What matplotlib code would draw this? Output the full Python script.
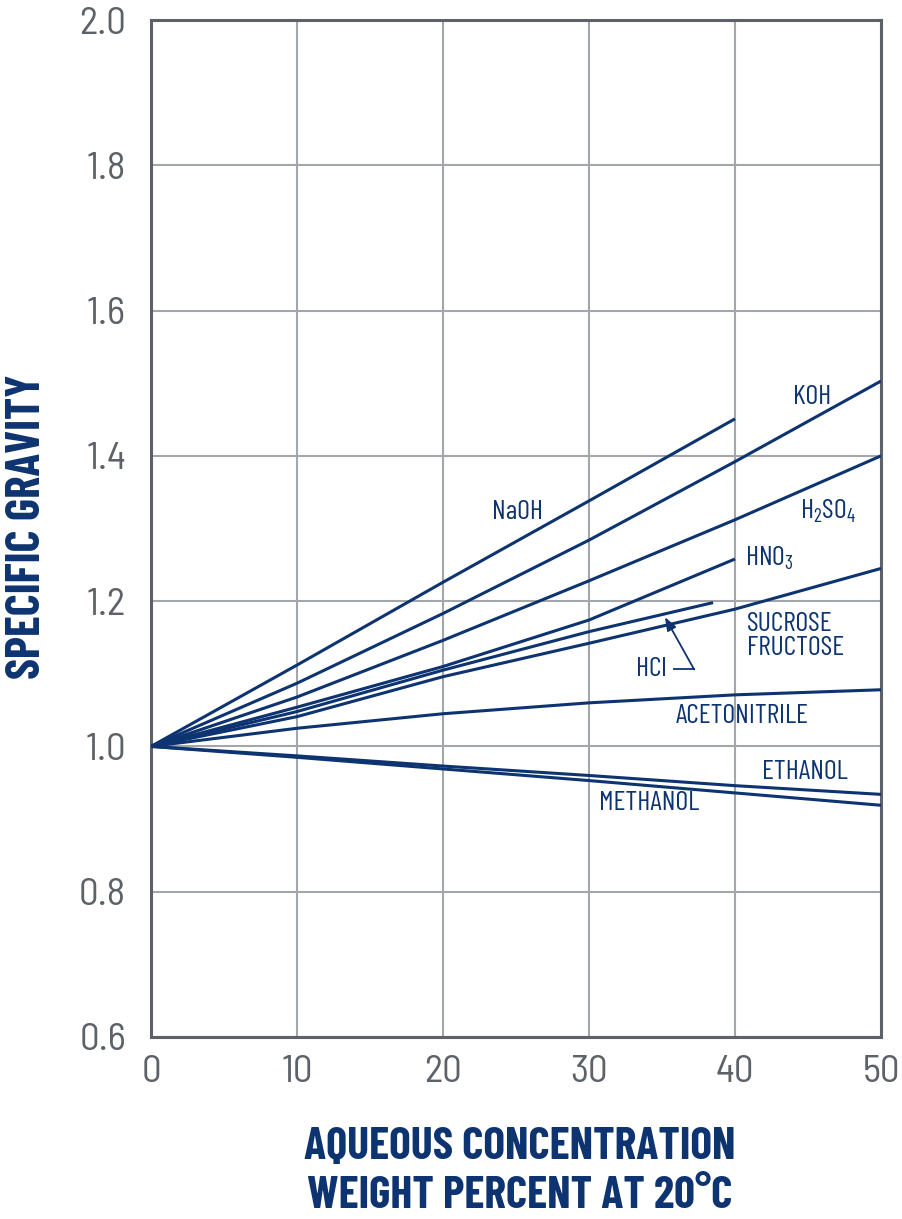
import matplotlib
matplotlib.use("Agg")
import matplotlib.pyplot as plt

# ---- data: specific gravity of aqueous solutions vs. weight percent ----
conc = [0, 10, 20, 30, 40, 50]

naoh_x = [0, 10, 20, 30, 40]
naoh_y = [1.000, 1.112, 1.226, 1.338, 1.451]

koh_x = conc
koh_y = [1.000, 1.087, 1.183, 1.284, 1.392, 1.503]

h2so4_x = conc
h2so4_y = [1.000, 1.068, 1.146, 1.228, 1.312, 1.400]

hno3_x = [0, 10, 20, 30, 40]
hno3_y = [1.000, 1.054, 1.110, 1.174, 1.258]

hcl_x = [0, 10, 20, 30, 38.5]
hcl_y = [1.000, 1.048, 1.105, 1.158, 1.198]

sucrose_x = conc
sucrose_y = [1.000, 1.041, 1.096, 1.142, 1.189, 1.245]

acetonitrile_x = conc
acetonitrile_y = [1.000, 1.025, 1.045, 1.060, 1.071, 1.078]

ethanol_x = conc
ethanol_y = [1.000, 0.987, 0.973, 0.960, 0.946, 0.934]

methanol_x = conc
methanol_y = [1.000, 0.985, 0.969, 0.953, 0.936, 0.919]

x_ticks = [0, 10, 20, 30, 40, 50]
y_ticks = [0.6, 0.8, 1.0, 1.2, 1.4, 1.6, 1.8, 2.0]
y_tick_labels = ["0.6", "0.8", "1.0", "1.2", "1.4", "1.6", "1.8", "2.0"]

# ---- styling ----
FONT = "Barlow Condensed"
TICK_FONT = "Barlow Semi Condensed"
plt.rcParams["font.family"] = [FONT, "DejaVu Sans"]
plt.rcParams["mathtext.fontset"] = "custom"
plt.rcParams["mathtext.rm"] = FONT
plt.rcParams["mathtext.it"] = FONT
plt.rcParams["mathtext.bf"] = FONT

NAVY = "#0d3470"
GRID = "#a3a7ab"
SPINE = "#5c6268"

fig = plt.figure(figsize=(9.02, 12.19), dpi=100)
ax = fig.add_axes([151 / 902, 1 - 1037 / 1219, 730 / 902, 1017 / 1219])

series = [
    (naoh_x, naoh_y), (koh_x, koh_y), (h2so4_x, h2so4_y), (hno3_x, hno3_y),
    (hcl_x, hcl_y), (sucrose_x, sucrose_y), (acetonitrile_x, acetonitrile_y),
    (ethanol_x, ethanol_y), (methanol_x, methanol_y),
]
for xs, ys in series:
    ax.plot(xs, ys, color=NAVY, lw=2.2, solid_capstyle="butt", zorder=3)

ax.set_xlim(0, 50)
ax.set_ylim(0.6, 2.0)
ax.set_xticks(x_ticks)
ax.set_yticks(y_ticks)
ax.set_yticklabels(y_tick_labels)
ax.grid(True, color=GRID, lw=1.5, zorder=0)
ax.set_axisbelow(True)
for s in ax.spines.values():
    s.set_color(SPINE)
    s.set_linewidth(2.2)
ax.tick_params(length=0, colors=SPINE, labelsize=28)
ax.tick_params(axis="y", pad=18)
ax.tick_params(axis="x", pad=13)
for lab in ax.get_xticklabels() + ax.get_yticklabels():
    lab.set_fontfamily([TICK_FONT, "DejaVu Sans"])
    lab.set_fontweight("normal")

fig.text(28 / 902, 1 - 527 / 1219, "SPECIFIC GRAVITY", color=NAVY, fontsize=34,
         fontweight="bold", rotation=90, ha="center", va="center")
fig.text(520 / 902, 1 - 1147 / 1219, "AQUEOUS CONCENTRATION", color=NAVY, fontsize=33,
         fontweight="bold", ha="center", va="center")
fig.text(520 / 902, 1 - 1196 / 1219, "WEIGHT PERCENT AT 20°C", color=NAVY, fontsize=33,
         fontweight="bold", ha="center", va="center")

# ---- curve labels ----
lab_kw = dict(color=NAVY, fontsize=20, va="center", zorder=4)
ax.text(25.1, 1.323, "NaOH", ha="center", **lab_kw)
ax.text(45.3, 1.481, "KOH", ha="center", **lab_kw)
ax.text(46.4, 1.323, "H$_2$SO$_4$", ha="center", **lab_kw)
ax.text(40.7, 1.259, "HNO$_3$", ha="left", **lab_kw)
ax.text(40.8, 1.152, "SUCROSE\nFRUCTOSE", ha="left", linespacing=1.0, **lab_kw)
ax.text(35.3, 1.106, "HCl", ha="right", **lab_kw)
ax.text(40.5, 1.042, "ACETONITRILE", ha="center", **lab_kw)
ax.text(44.8, 0.965, "ETHANOL", ha="center", **lab_kw)
ax.text(34.1, 0.922, "METHANOL", ha="center", **lab_kw)

# leader for HCl: short horizontal stub, then an arrow up to the curve
ax.plot([35.85, 37.2], [1.106, 1.106], color=NAVY, lw=1.3, zorder=4)
ax.annotate("", xy=(35.2, 1.178), xytext=(37.2, 1.106),
            arrowprops=dict(arrowstyle="-|>,head_length=0.8,head_width=0.3",
                            color=NAVY, lw=1.3, shrinkA=0, shrinkB=0), zorder=4)

fig.savefig("out.png", dpi=100)
